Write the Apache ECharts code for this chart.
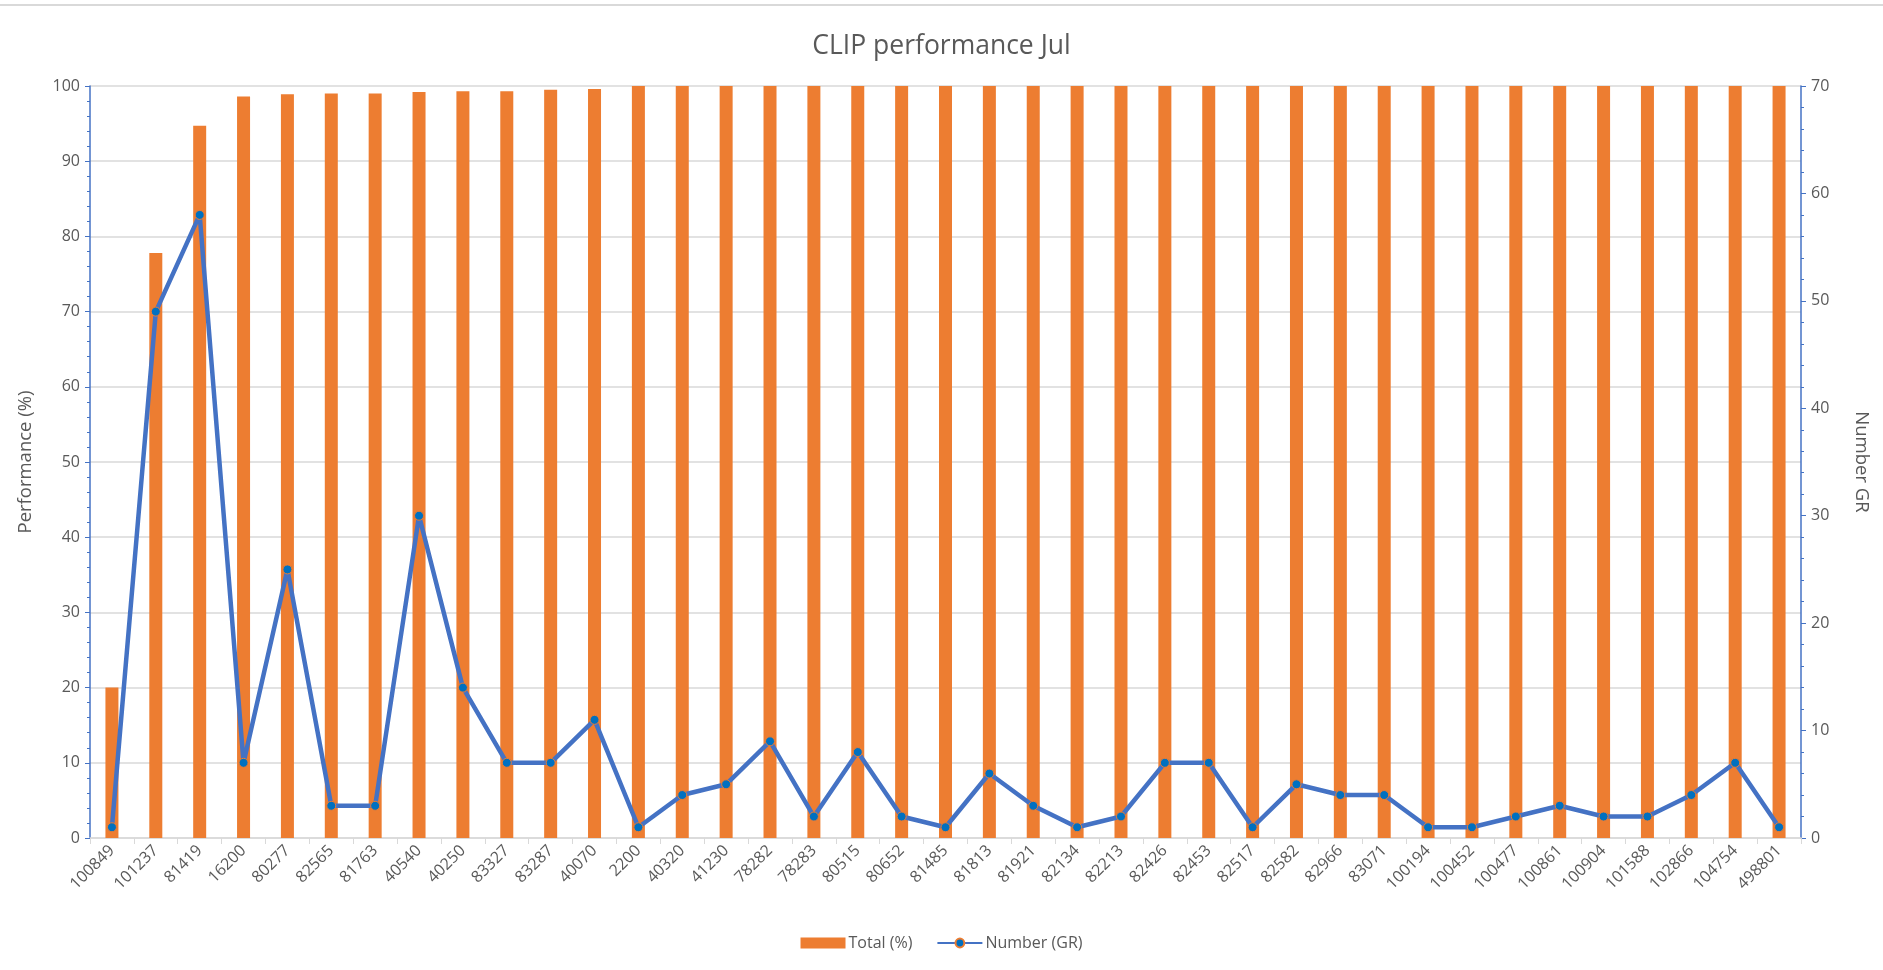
<!DOCTYPE html>
<html>
<head>
<meta charset="utf-8">
<script src="https://cdn.jsdelivr.net/npm/echarts@6/dist/echarts.min.js"></script>
<style>
html,body{margin:0;padding:0;background:#fff;}
#chart{width:1883px;height:970px;}
</style>
</head>
<body>
<div id="chart"></div>
<script>
const categories = ['100849','101237','81419','16200','80277','82565','81763','40540','40250','83327','83287','40070','2200','40320','41230','78282','78283','80515','80652','81485','81813','81921','82134','82213','82426','82453','82517','82582','82966','83071','100194','100452','100477','100861','100904','101588','102866','104754','498801'];
const totalPct = [20,77.8,94.7,98.6,98.9,99.0,99.0,99.2,99.3,99.3,99.5,99.6,100,100,100,100,100,100,100,100,100,100,100,100,100,100,100,100,100,100,100,100,100,100,100,100,100,100,100];
const numberGR = [1,49,58,7,25,3,3,30,14,7,7,11,1,4,5,9,2,8,2,1,6,3,1,2,7,7,1,5,4,4,1,1,2,3,2,2,4,7,1];
const leftTicks = [0,100,10];
const rightTicks = [0,70,10];

const FONT = "'Open Sans',sans-serif";
const TXT = '#595959';

const chart = echarts.init(document.getElementById('chart'), null, {renderer:'canvas'});
chart.setOption({
  animation:false,
  backgroundColor:'#fff',
  graphic:[{type:'line',shape:{x1:0,y1:5,x2:1883,y2:5},style:{stroke:'#D9D9D9',lineWidth:2}}],
  title:{text:'CLIP performance Jul',left:'center',top:28,textStyle:{fontFamily:FONT,fontSize:26.5,fontWeight:'normal',color:TXT}},
  legend:{bottom:14,left:'center',itemGap:24,itemWidth:45,itemHeight:11,
    textStyle:{fontFamily:FONT,fontSize:16,color:TXT,padding:[0,0,0,-2]},
    data:[{name:'Total (%)',icon:'rect'},{name:'Number (GR)'}]},
  grid:{left:90,right:82,top:86,bottom:132},
  xAxis:{type:'category',data:categories,
    axisLine:{lineStyle:{color:'#D9D9D9',width:1.5}},
    axisTick:{show:true,length:6,lineStyle:{color:'#D9D9D9'}},
    axisLabel:{rotate:45,interval:0,color:TXT,fontFamily:FONT,fontSize:16,margin:10}},
  yAxis:[
    {type:'value',min:leftTicks[0],max:leftTicks[1],interval:leftTicks[2],
     name:'Performance (%)',nameLocation:'middle',nameGap:55,nameRotate:90,
     nameTextStyle:{fontFamily:FONT,fontSize:18.5,color:TXT},
     axisLine:{show:true,lineStyle:{color:'#4472C4',width:1.5}},
     axisTick:{show:true,length:5,lineStyle:{color:'#4472C4'}},
     minorTick:{show:true,splitNumber:5,length:3,lineStyle:{color:'#4472C4'}},
     splitLine:{lineStyle:{color:'#D9D9D9',width:1.5}},
     axisLabel:{color:TXT,fontFamily:FONT,fontSize:16,margin:10}},
    {type:'value',min:rightTicks[0],max:rightTicks[1],interval:rightTicks[2],position:'right',
     name:'Number GR',nameLocation:'middle',nameGap:51,nameRotate:-90,
     nameTextStyle:{fontFamily:FONT,fontSize:18.5,color:TXT},
     axisLine:{show:true,lineStyle:{color:'#4472C4',width:1.5}},
     axisTick:{show:true,length:5,lineStyle:{color:'#4472C4'}},
     minorTick:{show:true,splitNumber:5,length:3,lineStyle:{color:'#4472C4'}},
     splitLine:{show:false},
     axisLabel:{color:TXT,fontFamily:FONT,fontSize:16,margin:10}}
  ],
  series:[
    {name:'Total (%)',type:'bar',data:totalPct,yAxisIndex:0,barWidth:13,
     itemStyle:{color:'#ED7D31'}},
    {name:'Number (GR)',type:'line',data:numberGR,yAxisIndex:1,
     symbol:'circle',symbolSize:9,
     lineStyle:{color:'#4472C4',width:4.5},
     itemStyle:{color:'#0070C0',borderColor:'#ED7D31',borderWidth:1}}
  ]
});
</script>
</body>
</html>
